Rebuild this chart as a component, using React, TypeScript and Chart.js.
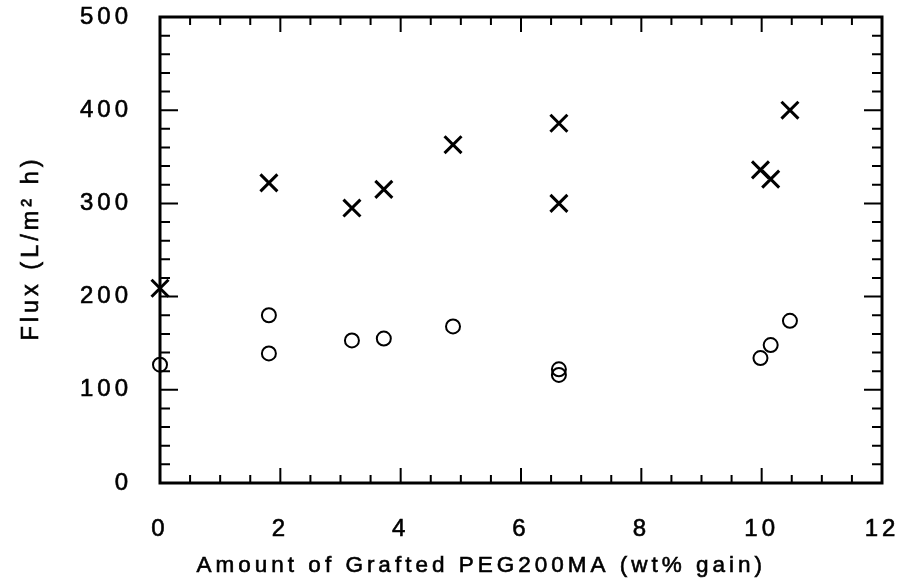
import React, { useEffect, useRef } from "react";
import { Chart, registerables } from "chart.js";

Chart.register(...registerables);

// Crosses (×) series
const crossX = [0, 1.81, 3.19, 3.72, 4.87, 6.63, 6.63, 9.98, 10.15, 10.47];
const crossY = [209, 322, 295, 315, 363, 386, 300, 336, 326, 400];

// Circles (○) series
const circleX = [0, 1.81, 1.81, 3.19, 3.72, 4.87, 6.63, 6.63, 9.98, 10.15, 10.47];
const circleY = [127, 180, 139, 153, 155, 168, 122, 116, 134, 148, 174];

// Axis ranges / ticks
const X_MIN = 0;
const X_MAX = 12;
const X_MAJOR = 2;
const X_MINOR = 0.5;
const Y_MIN = 0;
const Y_MAX = 500;
const Y_MAJOR = 100;
const Y_MINOR = 20;

const X_TITLE = "Amount of Grafted PEG200MA (wt% gain)";
const Y_TITLE = "Flux (L/m\u00B2 h)";

const FONT_FAMILY = "'Liberation Sans', Arial, Helvetica, sans-serif";

const spacingPlugin = {
  id: "letterSpacing",
  beforeUpdate(chart: any) {
    chart.ctx.letterSpacing = "4px";
  },
  beforeLayout(chart: any) {
    chart.ctx.letterSpacing = "4px";
  },
  beforeDraw(chart: any) {
    chart.ctx.letterSpacing = "4px";
  },
};

const isMultiple = (v: number, step: number) =>
  Math.abs(v / step - Math.round(v / step)) < 1e-6;

const framePlugin = {
  id: "frameTicks",
  beforeDatasetsDraw(chart: any) {
    const { ctx, chartArea: a, scales } = chart;
    const xs = scales.x;
    const ys = scales.y;
    ctx.save();
    ctx.strokeStyle = "#000";
    ctx.lineWidth = 3;
    ctx.strokeRect(a.left, a.top, a.right - a.left, a.bottom - a.top);
    ctx.lineWidth = 2;
    ctx.beginPath();
    for (let v = X_MIN; v <= X_MAX + 1e-9; v += X_MINOR) {
      const px = xs.getPixelForValue(v);
      const L = isMultiple(v, X_MAJOR) ? 15 : 8;
      ctx.moveTo(px, a.bottom);
      ctx.lineTo(px, a.bottom - L);
      ctx.moveTo(px, a.top);
      ctx.lineTo(px, a.top + L);
    }
    for (let v = Y_MIN; v <= Y_MAX + 1e-9; v += Y_MINOR) {
      const py = ys.getPixelForValue(v);
      const L = isMultiple(v, Y_MAJOR) ? 18 : 10;
      ctx.moveTo(a.left, py);
      ctx.lineTo(a.left + L, py);
      ctx.moveTo(a.right, py);
      ctx.lineTo(a.right - L, py);
    }
    ctx.stroke();
    ctx.restore();
  },
  afterDraw(chart: any) {
    const { ctx, chartArea: a } = chart;
    ctx.save();
    ctx.letterSpacing = "4px";
    ctx.fillStyle = "#000";
    ctx.strokeStyle = "#000";
    ctx.lineWidth = 0.6;
    ctx.textAlign = "center";
    ctx.textBaseline = "middle";
    // x title (slightly left of centre, as in the original figure)
    ctx.font = `22.5px ${FONT_FAMILY}`;
    const tx = a.left + (a.right - a.left) * 0.445;
    ctx.fillText(X_TITLE, tx, 566);
    ctx.strokeText(X_TITLE, tx, 566);
    // y title
    ctx.font = `23.5px ${FONT_FAMILY}`;
    ctx.translate(32, (a.top + a.bottom) / 2 - 2);
    ctx.rotate(-Math.PI / 2);
    ctx.fillText(Y_TITLE, 0, 0);
    ctx.strokeText(Y_TITLE, 0, 0);
    ctx.restore();
  },
};

const zeroPad = (s: any) => {
  s.paddingTop = 0;
  s.paddingBottom = 0;
  s.paddingLeft = 0;
  s.paddingRight = 0;
};

export default function App() {
  const ref = useRef<HTMLCanvasElement | null>(null);

  useEffect(() => {
    document.body.style.margin = "0";
    const canvas = ref.current;
    if (!canvas) return;

    const chart = new Chart(canvas, {
      type: "scatter",
      data: {
        datasets: [
          {
            label: "cross",
            data: crossX.map((x, i) => ({ x, y: crossY[i] })),
            pointStyle: "crossRot",
            pointRadius: 12,
            pointBorderWidth: 3,
            borderColor: "#000",
            backgroundColor: "#000",
            clip: false,
          } as any,
          {
            label: "circle",
            data: circleX.map((x, i) => ({ x, y: circleY[i] })),
            pointStyle: "circle",
            pointRadius: 7,
            pointBorderWidth: 2,
            borderColor: "#000",
            backgroundColor: "rgba(0,0,0,0)",
            clip: false,
          } as any,
        ],
      },
      options: {
        animation: false,
        responsive: true,
        maintainAspectRatio: false,
        layout: { padding: { top: 17, right: 22, left: 0, bottom: 0 } },
        plugins: {
          legend: { display: false },
          tooltip: { enabled: false },
        },
        scales: {
          x: {
            type: "linear",
            min: X_MIN,
            max: X_MAX,
            ticks: {
              stepSize: X_MAJOR,
              color: "#000",
              padding: 32,
              font: { family: FONT_FAMILY, size: 24 },
              maxRotation: 0,
              textStrokeColor: "#000",
              textStrokeWidth: 0.6,
            },
            grid: { display: true, drawOnChartArea: false, drawTicks: false },
            border: { display: false },
            title: { display: false },
            afterFit: (s: any) => {
              s.height = 103;
              zeroPad(s);
            },
          },
          y: {
            type: "linear",
            min: Y_MIN,
            max: Y_MAX,
            ticks: {
              stepSize: Y_MAJOR,
              color: "#000",
              padding: 28,
              font: { family: FONT_FAMILY, size: 24 },
              textStrokeColor: "#000",
              textStrokeWidth: 0.6,
            },
            grid: { display: true, drawOnChartArea: false, drawTicks: false },
            border: { display: false },
            title: { display: false },
            afterFit: (s: any) => {
              s.width = 160;
              zeroPad(s);
            },
          },
        },
      },
      plugins: [spacingPlugin, framePlugin],
    } as any);

    return () => chart.destroy();
  }, []);

  return (
    <div style={{ position: "relative", width: 904, height: 586 }}>
      <canvas ref={ref} />
    </div>
  );
}
